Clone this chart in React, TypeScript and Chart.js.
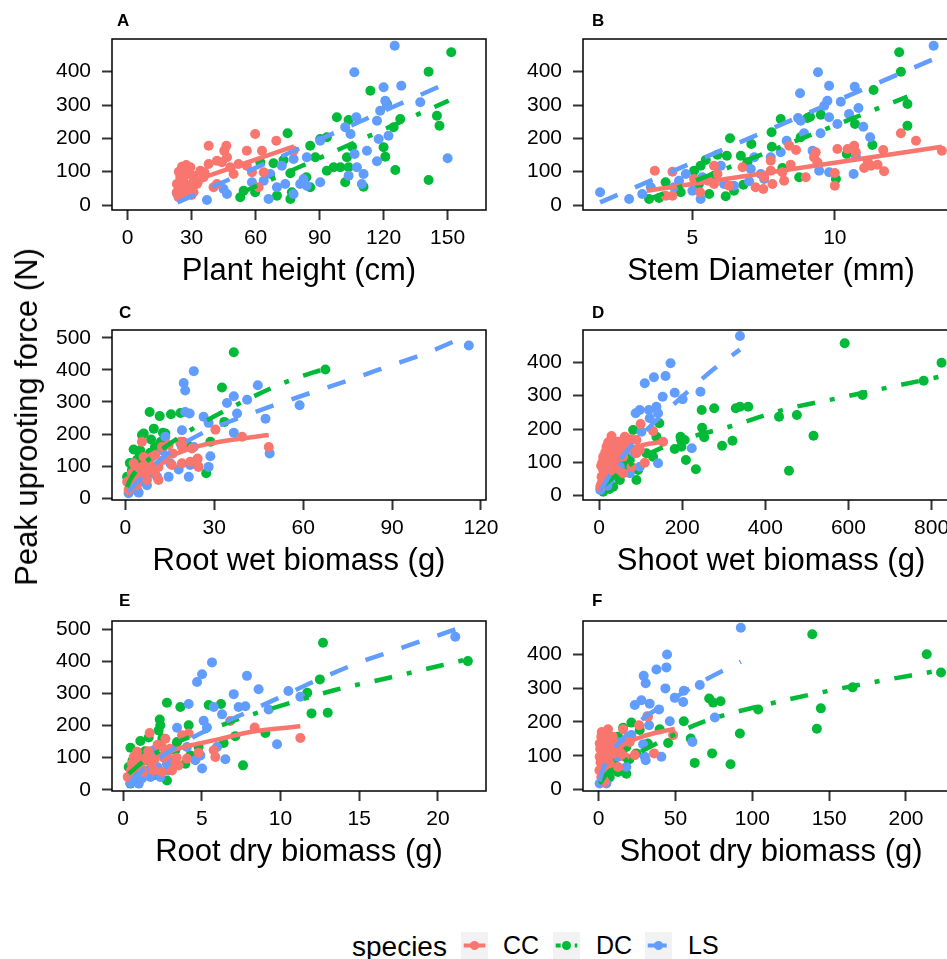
import React, { useEffect, useRef } from 'react';
import { Chart, registerables } from 'chart.js';

Chart.register(...registerables);

type Pt = [number, number];

// ---------- tick labels ----------
const heightTicks = [0, 30, 60, 90, 120, 150];
const diamTicks = [5, 10];
const rootWetTicks = [0, 30, 60, 90, 120];
const shootWetTicks = [0, 200, 400, 600, 800];
const rootDryTicks = [0, 5, 10, 15, 20];
const shootDryTicks = [0, 50, 100, 150, 200];
const forceTicks400 = [0, 100, 200, 300, 400];
const forceTicks500 = [0, 100, 200, 300, 400, 500];

// ---------- A: plant height (cm) vs peak force (N) ----------
const heightCC: Pt[] = [[59.8,213],[38,178],[46.3,178],[45.3,163],[55.9,163],[69.7,193],[63,163],[41.9,133],[38,123],[44.2,128],[52,123],[48.1,113],[25.5,115],[29.4,113],[34.1,103],[49.7,93],[55.9,118],[63.8,98],[41.9,63],[40.3,53],[61.4,53],[24.7,83],[25.5,63],[27.8,53],[23.1,38],[26.3,28],[30.9,38],[30.9,73],[28.6,93],[35.6,83],[23.1,63],[32.5,63],[23.9,23],[46.6,143],[58.3,98],[77.8,163],[27,100],[24,48],[29,60],[31,88],[26,75],[24.5,45],[26.5,88],[28,40],[24,100],[29.5,50],[33,70],[36,98],[27.5,120],[25,55],[30,30]];
const heightDC: Pt[] = [[151.7,458],[141.1,400],[113.8,343],[121.6,303],[98.1,263],[103.6,255],[145,268],[146.2,238],[127.8,258],[124.7,233],[75,215],[93.4,203],[90.3,198],[85.6,178],[105.2,175],[120,173],[120.8,145],[88,143],[73.1,135],[68.4,125],[62.2,128],[102.8,143],[99.7,113],[103.6,113],[96.6,113],[76.3,95],[83.8,83],[85.6,53],[102,68],[110.6,55],[125.5,105],[141.1,75],[54.4,43],[52.8,23],[59.8,38],[70,28],[76.3,18],[77,38],[93.4,103]];
const heightLS: Pt[] = [[125.2,478],[106.3,398],[128.3,358],[120,353],[137.2,308],[120.8,313],[121.6,298],[118.4,283],[116.9,253],[107.2,263],[102,233],[104.5,213],[122.3,208],[90.3,193],[117.7,198],[112.2,163],[150,140],[116.9,131],[106.4,153],[84,143],[107.5,113],[110.6,93],[103.6,88],[109.8,63],[90.3,68],[77.8,138],[72.3,118],[66.9,93],[63.8,73],[73.9,63],[80.9,63],[70,53],[66.1,18],[58.3,68],[45,48],[46.6,33],[37.2,15],[23.1,35],[77.8,33],[84,58],[82.5,78]];
const heightFitCC: Pt[] = [[23,55],[78,176]];
const heightFitDC: Pt[] = [[53,36],[150.5,313]];
const heightFitLS: Pt[] = [[23.4,8],[150.5,368]];

// ---------- B: stem diameter (mm) ----------
const diamCC: Pt[] = [[12.32,215],[12.85,193],[13.76,163],[10.09,168],[10.68,178],[10.45,168],[11.7,165],[10.74,158],[8.4,178],[8.64,165],[9.33,158],[9.27,143],[9.39,128],[11.15,133],[11.27,118],[11.03,111],[11.5,121],[11.73,101],[10,96],[10,58],[8.45,121],[7.75,133],[7.75,103],[8.16,98],[8.98,83],[8.22,73],[7.52,83],[7.81,63],[7.22,53],[7.49,48],[5.76,118],[5.88,93],[5.06,78],[5.56,73],[6.29,58],[5.27,38],[4.3,100],[3.68,103],[4.06,28],[4.3,28],[5.76,63],[6.76,113]];
const diamDC: Pt[] = [[12.26,458],[12.32,400],[11.36,345],[12.55,303],[9.51,271],[9.13,265],[9.04,261],[8.1,258],[12.55,238],[10.71,243],[6.32,200],[8.8,203],[7.78,218],[7.79,175],[7.07,183],[11.32,180],[10.42,153],[5.88,151],[6.21,148],[6.7,148],[5.47,135],[6.93,128],[8.16,111],[8.75,83],[10.04,78],[5.29,118],[5.06,103],[5.76,88],[4.06,68],[6.79,61],[6.46,43],[6.17,26],[5.59,33],[3.48,18],[3.83,21],[4.59,38],[5.23,63]];
const diamLS: Pt[] = [[13.47,478],[9.41,398],[9.8,358],[10.7,355],[8.78,335],[9.74,313],[9.63,298],[10.21,310],[10.83,291],[10.5,273],[8.71,261],[8.8,253],[9.8,263],[10.09,243],[11,235],[8.92,215],[9.5,215],[11.24,203],[8.31,193],[8.1,158],[7.75,143],[7.17,143],[9.22,163],[10.74,146],[9.45,103],[9.8,98],[10.66,93],[6,118],[7.05,108],[7.4,93],[6.99,71],[7.52,78],[6.11,63],[6.46,58],[4.77,93],[4.53,73],[5,43],[5.29,18],[3.54,53],[3.24,33],[2.78,18],[1.76,38],[4.36,53],[5.35,83]];
const diamFitCC: Pt[] = [[3.4,43],[13.76,175]];
const diamFitDC: Pt[] = [[3.4,15],[12.55,325]];
const diamFitLS: Pt[] = [[1.76,8],[13.47,438]];

// ---------- C: root wet biomass (g) ----------
const rootWetCC: Pt[] = [[30.4,214],[39.4,192],[48.4,160],[19.5,176],[19.1,160],[22.5,155],[14.6,166],[12.4,160],[10.1,135],[5.6,176],[24.4,124],[24.7,98],[19.1,109],[21.9,114],[15.7,104],[11.2,98],[8.4,98],[2.8,109],[2.2,78],[0.6,52],[5.1,67],[7.3,57],[11.2,57],[1.1,26],[3.9,41],[9,129],[6.2,129],[18.6,176],[24.2,119],[3.5,90],[6.8,80],[2,60],[4,95],[6,100],[8,110],[10,80],[3,45],[13,120],[16,140],[1.5,35]];
const rootWetDC: Pt[] = [[36.6,455],[67.5,401],[32.6,345],[8.2,269],[11.6,256],[15.4,262],[18.6,266],[33.4,238],[9.6,217],[5.6,197],[8.7,183],[12,176],[12.7,204],[2.8,152],[4.8,140],[21,166],[27.3,78],[0.6,67],[2.2,88],[6.2,119],[8.4,142],[1.7,41],[3.9,98],[28.7,176],[6.2,202],[13.5,202],[4,120],[1.5,110],[3,110],[5,150],[7,130],[10,160],[2,70]];
const rootWetLS: Pt[] = [[115.9,476],[58.8,290],[44.7,352],[47.3,248],[48.7,140],[41.1,307],[36.6,318],[34.3,297],[37.7,264],[36.6,204],[28.1,235],[26.4,254],[23.1,396],[19.7,359],[20.2,336],[20.2,269],[21.7,264],[19.1,212],[18.6,171],[23.1,160],[28.7,131],[28.1,98],[21.9,104],[18,90],[21.4,67],[13.5,192],[15.2,109],[12.4,150],[8.4,78],[5.1,52],[1.1,16],[4.5,18],[7.3,41],[10.7,67],[7.9,98],[14.6,67],[2,30],[3,40],[6,60],[9,85],[11,100],[4,25]];
const rootWetFitCC: Pt[] = [[0.6,34],[2.8,58],[5,78],[8.4,98],[14.1,127],[19.7,148],[25.3,164],[36.6,183],[48.4,197]];
const rootWetFitDC: Pt[] = [[0.6,35],[1.5,55],[3.4,83],[9,129],[21.9,212],[37.9,293],[55.5,367],[67.5,404]];
const rootWetFitLS: Pt[] = [[1.1,22],[4,50],[12.9,129],[25.3,200],[37.7,248],[51.2,293],[77,373],[89.7,414],[102.4,455],[115.9,509]];

// ---------- D: shoot wet biomass (g) ----------
const shootWetCC: Pt[] = [[100,215],[130,194],[154,162],[30,179],[62,177],[78,169],[46,162],[10,117],[26,117],[46,127],[70,142],[14,97],[38,107],[58,117],[90,127],[98,137],[110,99],[10,77],[26,67],[6,57],[42,77],[3,27],[6,37],[58,67],[78,87],[18,147],[90,167],[20,130],[34,90],[8,100],[15,130],[22,160],[30,120],[40,140],[5,90],[12,70],[50,150],[65,160]];
const shootWetDC: Pt[] = [[591,457],[824,399],[781,345],[634,302],[247,257],[277,262],[329,262],[339,267],[359,267],[433,237],[476,242],[248,204],[253,175],[196,177],[182,140],[206,167],[296,150],[321,165],[516,180],[209,107],[233,79],[457,75],[145,217],[138,177],[130,117],[90,47],[94,77],[82,197],[46,117],[62,122],[34,27],[18,32],[50,47],[74,107],[114,127],[10,12],[198,147],[20,50],[40,70],[60,90],[25,20]];
const shootWetLS: Pt[] = [[339,479],[172,397],[132,355],[160,359],[110,337],[153,297],[182,309],[201,289],[244,312],[98,257],[88,247],[120,257],[138,267],[142,247],[122,232],[102,192],[223,142],[142,97],[78,167],[62,147],[34,157],[50,87],[10,37],[3,17],[26,47],[74,67],[98,87],[86,127],[15,60],[30,80],[45,110],[60,130],[20,30]];
const shootWetFitCC: Pt[] = [[3,35],[10,70],[30,105],[66,135],[106,152],[157,163]];
const shootWetFitDC: Pt[] = [[10,30],[82,99],[187,162],[319,209],[448,259],[585,295],[709,328],[824,358]];
const shootWetFitLS: Pt[] = [[3,15],[50,107],[100,179],[208,306],[279,383],[339,438]];

// ---------- E: root dry biomass (g) ----------
const rootDryCC: Pt[] = [[11.26,161],[8.36,194],[6.81,214],[1.69,177],[2.69,159],[3.75,170],[4.17,175],[2.48,133],[3,128],[4.8,115],[5.76,123],[5.86,102],[0.68,102],[0.89,118],[1.1,81],[0.57,81],[1.52,102],[1.95,60],[2.48,55],[3.32,86],[3.53,76],[3.11,60],[0.3,40],[1.31,55],[4.06,97],[2,95],[2.8,110],[0.5,60],[0.8,70],[1.2,95],[1.6,120],[2.2,140],[2.6,100],[3.4,100],[1.8,80]];
const rootDryDC: Pt[] = [[12.7,458],[21.9,401],[12.5,344],[11.7,302],[11.97,238],[13,240],[2.79,271],[3.64,258],[5.44,264],[6.22,267],[2.33,219],[2.37,201],[4.17,201],[2.26,185],[1.1,152],[1.63,163],[7.13,167],[9.04,177],[6.39,146],[7.62,76],[3.96,81],[4.28,107],[0.47,131],[0.36,71],[0.68,60],[0.89,102],[1.52,92],[1.95,45],[3.32,123],[3.43,149],[4.8,133],[0.47,19],[2.79,29],[0.6,90],[1.4,120],[2.5,160],[0.9,50]];
const rootDryLS: Pt[] = [[21.1,477],[5.65,397],[5.02,360],[4.7,336],[7.87,355],[8.61,313],[10.5,308],[7.03,298],[11.26,290],[4.17,267],[5.76,258],[7.34,258],[7.77,260],[9.25,250],[6.29,235],[5.12,215],[3.43,193],[5.33,194],[9.78,142],[5.97,133],[6.5,95],[5.02,66],[4.59,92],[4.91,107],[1.95,123],[2.79,81],[1.31,45],[0.47,21],[1,19],[1.74,40],[2.9,60],[2.37,40],[4.06,133],[0.6,30],[1.5,60],[2.2,70],[3,90],[1.2,35]];
const rootDryFitCC: Pt[] = [[0.3,40],[1.73,97],[3.85,133],[5.97,156],[8.08,180],[11.26,198]];
const rootDryFitDC: Pt[] = [[0.36,50],[1.73,104],[6.8,211],[10.1,263],[13.4,310],[16.97,350],[20.25,388],[21.9,407]];
const rootDryFitLS: Pt[] = [[0.47,25],[0.9,46],[1.5,72],[2.8,115],[4.9,175],[7.45,232],[9.78,284],[12.3,341],[14.86,394],[16.97,430],[21.1,500]];

// ---------- F: shoot dry biomass (g) ----------
const shootDryCC: Pt[] = [[6.1,178],[15.9,178],[26.3,190],[48.4,161],[36,107],[23.5,102],[0.65,136],[1.7,156],[9.3,156],[8.3,126],[5,111],[0.65,97],[2.8,82],[7.2,77],[12.6,67],[0.5,57],[1.7,37],[3.9,23],[16.9,97],[32.1,215],[9.3,106],[20.2,141],[4,140],[11,120],[1,120],[2,100],[3,130],[4,70],[6,90],[10,140],[14,110],[2,170],[5,160],[1.2,80]];
const shootDryDC: Pt[] = [[139,459],[213.5,400],[222.8,346],[165.3,302],[71.9,269],[74.5,257],[79.3,261],[103.8,237],[144.6,240],[142,180],[55.4,202],[91.9,166],[59.9,151],[45.2,138],[73.8,107],[62.5,79],[85.8,75],[21.3,198],[15.9,183],[26.7,176],[12.6,156],[18,126],[24.5,107],[18,47],[12.6,52],[7.2,37],[5,23],[32,136],[39.7,178],[3,30],[8,60],[10,90],[20,90]];
const shootDryLS: Pt[] = [[92.5,478],[44.5,399],[37.6,355],[44.1,361],[29.3,336],[30.6,314],[43.4,299],[55.4,292],[65.8,309],[49.5,271],[55,259],[23.5,250],[27.8,264],[33.2,254],[39.3,237],[31.7,217],[32.8,190],[46.3,202],[75.6,213],[61,141],[40.8,97],[30,97],[30.6,87],[28.9,134],[21.3,161],[18,67],[8.3,136],[14.8,141],[2.8,37],[0.65,18],[5,18],[12.6,97],[2,50],[4,80],[6,100],[10,120],[3,30]];
const shootDryFitCC: Pt[] = [[0.5,20],[5,77],[13.7,124],[26.7,154],[49.5,180]];
const shootDryFitDC: Pt[] = [[0.65,18],[5,45],[13.7,75],[39.7,141],[68,200],[107,249],[161,302],[222.8,353]];
const shootDryFitLS: Pt[] = [[0.5,24],[3,62],[9.3,116],[20,170],[29.8,213],[40.6,245],[53.6,283],[65.6,315],[92.5,378]];

// ---------- styling ----------
const FONT = "'Liberation Sans', Arial, Helvetica, sans-serif";
const COLORS: Record<string, string> = { CC: '#F8766D', DC: '#00BA38', LS: '#619CFF' };
const DASHES: Record<string, number[]> = { CC: [], DC: [18, 15, 5, 15], LS: [19, 19] };
const SPECIES = ['CC', 'DC', 'LS'];
const YW = 105; // y-axis band width
const XH = 80; // x-axis band height
const PT = 30; // top padding
const PR = 25; // right padding

interface Spec {
  letter: string;
  letterPos: [number, number];
  title: string;
  plot: [number, number, number, number];
  xRange: [number, number];
  yRange: [number, number];
  xTicks: number[];
  yTicks: number[];
  points: Record<string, Pt[]>;
  fits: Record<string, Pt[]>;
}

const PANELS: Spec[] = [
  { letter: 'A', letterPos: [117, 11.5], title: 'Plant height (cm)', plot: [112, 39, 486, 210], xRange: [-7.3, 168], yRange: [-15, 498], xTicks: heightTicks, yTicks: forceTicks400,
    points: { CC: heightCC, DC: heightDC, LS: heightLS }, fits: { CC: heightFitCC, DC: heightFitDC, LS: heightFitLS } },
  { letter: 'B', letterPos: [592, 11.5], title: 'Stem Diameter (mm)', plot: [583, 39, 959, 210], xRange: [1.16, 14.36], yRange: [-15, 498], xTicks: diamTicks, yTicks: forceTicks400,
    points: { CC: diamCC, DC: diamDC, LS: diamLS }, fits: { CC: diamFitCC, DC: diamFitDC, LS: diamFitLS } },
  { letter: 'C', letterPos: [119, 303.5], title: 'Root wet biomass (g)', plot: [112, 330, 486, 500], xRange: [-4.5, 121.7], yRange: [-5, 524], xTicks: rootWetTicks, yTicks: forceTicks500,
    points: { CC: rootWetCC, DC: rootWetDC, LS: rootWetLS }, fits: { CC: rootWetFitCC, DC: rootWetFitDC, LS: rootWetFitLS } },
  { letter: 'D', letterPos: [592, 303.5], title: 'Shoot wet biomass (g)', plot: [583, 330, 959, 500], xRange: [-38.6, 866], yRange: [-13, 497], xTicks: shootWetTicks, yTicks: forceTicks400,
    points: { CC: shootWetCC, DC: shootWetDC, LS: shootWetLS }, fits: { CC: shootWetFitCC, DC: shootWetFitDC, LS: shootWetFitLS } },
  { letter: 'E', letterPos: [119, 592], title: 'Root dry biomass (g)', plot: [112, 621, 486, 791], xRange: [-0.7, 23.05], yRange: [-4, 526], xTicks: rootDryTicks, yTicks: forceTicks500,
    points: { CC: rootDryCC, DC: rootDryDC, LS: rootDryLS }, fits: { CC: rootDryFitCC, DC: rootDryFitDC, LS: rootDryFitLS } },
  { letter: 'F', letterPos: [592, 592], title: 'Shoot dry biomass (g)', plot: [583, 621, 959, 791], xRange: [-10.2, 234.5], yRange: [-4, 498], xTicks: shootDryTicks, yTicks: forceTicks400,
    points: { CC: shootDryCC, DC: shootDryDC, LS: shootDryLS }, fits: { CC: shootDryFitCC, DC: shootDryFitDC, LS: shootDryFitLS } },
];

const framePlugin = {
  id: 'frame',
  afterDraw(chart: any) {
    const { ctx, chartArea } = chart;
    const { left, top, right, bottom } = chartArea;
    ctx.save();
    ctx.strokeStyle = '#000';
    ctx.lineWidth = 1.5;
    ctx.strokeRect(left, top, right - left, bottom - top);
    ctx.restore();
  },
};

const toXY = (arr: Pt[]) => arr.map(([x, y]) => ({ x, y }));

function Panel({ spec }: { spec: Spec }) {
  const ref = useRef<HTMLCanvasElement>(null);
  const [l, t, r, b] = spec.plot;
  const cw = r - l + YW + PR;
  const ch = b - t + PT + XH;

  useEffect(() => {
    if (!ref.current) return;
    const lineOrder: Record<string, number> = { LS: 0, DC: 1, CC: 2 };
    const ptOrder: Record<string, number> = { CC: 3, LS: 4, DC: 5 };
    const datasets: any[] = [];
    SPECIES.forEach((s) => {
      datasets.push({
        label: s + ' fit',
        data: toXY(spec.fits[s]),
        showLine: true,
        pointRadius: 0,
        borderColor: COLORS[s],
        backgroundColor: COLORS[s],
        borderWidth: 4.5,
        borderDash: DASHES[s],
        borderCapStyle: 'butt',
        cubicInterpolationMode: 'monotone',
        fill: false,
        order: lineOrder[s],
      });
      datasets.push({
        label: s,
        data: toXY(spec.points[s]),
        showLine: false,
        pointRadius: 5,
        pointBorderWidth: 0,
        pointBackgroundColor: COLORS[s],
        backgroundColor: COLORS[s],
        borderColor: COLORS[s],
        order: ptOrder[s],
      });
    });
    const tickFont = { family: FONT, size: 21 };
    const chart = new Chart(ref.current, {
      type: 'scatter',
      data: { datasets },
      plugins: [framePlugin],
      options: {
        animation: false,
        responsive: false,
        maintainAspectRatio: false,
        devicePixelRatio: 1,
        events: [],
        layout: { padding: { top: PT, right: PR, left: 0, bottom: 0 } },
        plugins: { legend: { display: false }, tooltip: { enabled: false }, title: { display: false } },
        scales: {
          x: {
            type: 'linear',
            position: 'bottom',
            min: spec.xRange[0],
            max: spec.xRange[1],
            afterFit: (s: any) => { s.height = XH; },
            afterBuildTicks: (s: any) => { s.ticks = spec.xTicks.map((v) => ({ value: v })); },
            ticks: { font: tickFont, color: '#000', padding: 6, maxRotation: 0, minRotation: 0, autoSkip: false, callback: (v: any) => String(v) },
            grid: { display: true, drawOnChartArea: false, drawTicks: true, tickLength: 10, tickWidth: 2, tickColor: '#333' },
            border: { display: false },
            title: { display: true, text: spec.title, font: { family: FONT, size: 31 }, color: '#000', padding: 0 },
          },
          y: {
            type: 'linear',
            position: 'left',
            min: spec.yRange[0],
            max: spec.yRange[1],
            afterFit: (s: any) => { s.width = YW; },
            afterBuildTicks: (s: any) => { s.ticks = spec.yTicks.map((v) => ({ value: v })); },
            ticks: { font: tickFont, color: '#000', padding: 11, autoSkip: false, callback: (v: any) => String(v) },
            grid: { display: true, drawOnChartArea: false, drawTicks: true, tickLength: 10, tickWidth: 2, tickColor: '#333' },
            border: { display: false },
          },
        },
      } as any,
    });
    return () => chart.destroy();
  }, [spec]);

  return (
    <>
      <canvas ref={ref} width={cw} height={ch} style={{ position: 'absolute', left: l - YW, top: t - PT, display: 'block' }} />
      <div style={{ position: 'absolute', left: spec.letterPos[0], top: spec.letterPos[1], font: `bold 17px ${FONT}`, lineHeight: '17px', color: '#000' }}>{spec.letter}</div>
    </>
  );
}

function LegendKey({ species, left }: { species: string; left: number }) {
  const dash = species === 'DC' ? '5 6 2 6' : species === 'LS' ? '19 19' : undefined;
  return (
    <svg style={{ position: 'absolute', left, top: 932 }} width={27} height={27}>
      <rect x={0} y={0} width={27} height={27} fill="#F2F2F2" />
      <line x1={2.7} x2={24.3} y1={13.5} y2={13.5} stroke={COLORS[species]} strokeWidth={4} strokeDasharray={dash} />
      <circle cx={13.5} cy={13.5} r={4.5} fill={COLORS[species]} />
    </svg>
  );
}

export default function App() {
  const labelStyle = (left: number, size: number): React.CSSProperties => ({
    position: 'absolute', left, top: 931, height: 28, lineHeight: '28px', font: `${size}px ${FONT}`, color: '#000', whiteSpace: 'nowrap',
  });
  return (
    <div style={{ position: 'fixed', left: 0, top: 0, width: 947, height: 959, overflow: 'hidden', background: '#fff' }}>
      {PANELS.map((p) => <Panel key={p.letter} spec={p} />)}
      <div style={{ position: 'absolute', left: 27, top: 417, transform: 'translate(-50%, -50%) rotate(-90deg)', font: `31px ${FONT}`, color: '#000', whiteSpace: 'nowrap' }}>
        Peak uprooting force (N)
      </div>
      <div style={labelStyle(352, 28)}>species</div>
      <LegendKey species="CC" left={461} />
      <div style={labelStyle(503, 25)}>CC</div>
      <LegendKey species="DC" left={553} />
      <div style={labelStyle(596, 25)}>DC</div>
      <LegendKey species="LS" left={645} />
      <div style={labelStyle(688, 25)}>LS</div>
    </div>
  );
}
